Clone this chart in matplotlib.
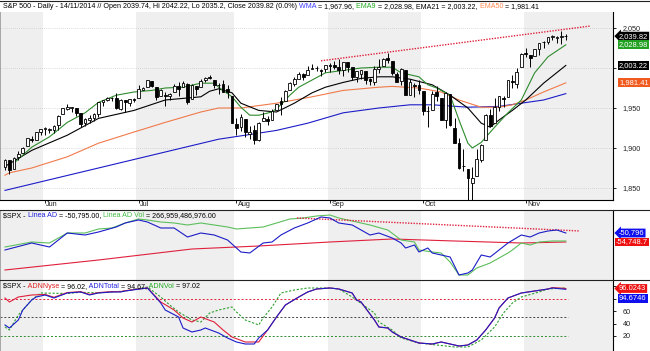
import matplotlib
matplotlib.use('Agg')
import matplotlib.pyplot as plt
from matplotlib.lines import Line2D

plt.rcParams['font.family'] = ['Liberation Sans', 'DejaVu Sans']
plt.rcParams['font.size'] = 5.2

W, H = 650, 351

# daily sessions 19/05/2014 .. 14/11/2014 (bar index 0..126)
months = ['Jun', 'Jul', 'Aug', 'Sep', 'Oct', 'Nov']
month_start = [9, 30, 52, 73, 94, 117]

opens = [1876.7, 1884.9, 1873.3, 1888.2, 1893.3, 1902.0, 1911.8, 1910.6, 1920.3,
         1923.9, 1923.1, 1923.1, 1928.5, 1942.4, 1949.0, 1950.3, 1949.4, 1943.4, 1930.8, 1934.8,
         1937.2, 1942.7, 1957.5, 1960.5, 1962.9, 1962.0, 1949.3, 1959.9, 1956.6, 1960.8,
         1962.3, 1973.1, 1975.9, 1984.2, 1976.4, 1965.1, 1966.7, 1965.0, 1969.9, 1977.4, 1976.4,
         1979.8, 1961.5, 1976.9, 1975.7, 1985.3, 1988.1, 1984.6, 1978.3, 1980.0, 1973.2, 1965.1,
         1929.8, 1926.0, 1936.3, 1917.3, 1923.0, 1910.4, 1933.4, 1935.7, 1935.6, 1947.4, 1958.9,
         1958.4, 1972.7, 1980.5, 1986.8, 1992.6, 1991.7, 1998.6, 2000.5, 1997.4, 1998.5,
         2004.1, 2003.6, 2001.7, 1998.0, 2007.2, 2000.7, 1988.4, 1992.9, 1996.7, 1986.0, 1981.9,
         1999.3, 2003.1, 2012.7, 2009.1, 1992.8, 1983.3, 1997.3, 1966.2, 1979.0, 1978.2,
         1971.4, 1945.8, 1948.1, 1970.0, 1962.4, 1935.6, 1967.7, 1925.6, 1905.7, 1877.1, 1874.2,
         1856.0, 1864.9, 1885.6, 1909.4, 1941.3, 1931.0, 1951.6, 1963.0, 1964.1, 1983.3, 1979.5, 2001.2,
         2018.2, 2015.8, 2015.3, 2023.3, 2032.4, 2032.0, 2038.2, 2037.8, 2039.2, 2039.74]
highs = [1886.0, 1884.9, 1888.8, 1896.3, 1901.3, 1912.3, 1914.5, 1920.0, 1924.0,
         1925.9, 1925.1, 1928.6, 1941.7, 1949.4, 1955.6, 1950.9, 1949.4, 1943.4, 1937.3, 1941.2,
         1943.7, 1957.7, 1959.9, 1963.9, 1963.7, 1968.2, 1960.8, 1959.9, 1961.0, 1962.3,
         1978.6, 1976.7, 1985.6, 1984.2, 1976.4, 1974.2, 1969.8, 1968.7, 1979.9, 1982.5, 1983.9,
         1981.8, 1979.9, 1976.9, 1986.2, 1989.2, 1991.4, 1984.6, 1981.5, 1984.9, 1978.9, 1965.1,
         1937.4, 1942.9, 1936.3, 1927.9, 1928.9, 1932.4, 1944.9, 1939.7, 1948.4, 1955.2, 1964.0,
         1972.0, 1982.6, 1988.6, 1994.8, 1993.5, 2002.0, 2005.0, 2002.1, 1998.6, 2003.4,
         2006.1, 2009.3, 2011.2, 2007.7, 2007.2, 2001.0, 1996.7, 1997.7, 1996.7, 1987.2, 2002.3,
         2010.7, 2012.3, 2019.3, 2009.1, 1995.4, 1999.8, 1997.3, 1986.4, 1981.3, 1985.2,
         1971.4, 1952.3, 1971.2, 1977.8, 1962.4, 1970.4, 1967.7, 1937.0, 1912.1, 1898.7, 1874.2,
         1876.0, 1898.2, 1905.0, 1942.5, 1949.3, 1962.0, 1965.3, 1964.6, 1985.1, 1991.4, 1999.4, 2018.2,
         2024.5, 2016.0, 2023.8, 2031.6, 2034.3, 2038.7, 2041.3, 2040.3, 2046.2, 2042.22]
lows = [1872.4, 1868.1, 1873.3, 1885.4, 1893.3, 1902.0, 1907.3, 1909.8, 1916.6,
        1915.8, 1918.8, 1918.6, 1922.9, 1942.4, 1947.2, 1944.6, 1940.1, 1925.8, 1927.7, 1930.9,
        1933.6, 1939.3, 1952.3, 1959.2, 1958.2, 1948.3, 1947.5, 1944.7, 1952.2, 1957.3,
        1962.3, 1972.6, 1975.9, 1975.7, 1959.5, 1965.1, 1952.9, 1959.6, 1969.9, 1965.3, 1975.7,
        1955.6, 1960.8, 1965.8, 1975.7, 1982.4, 1985.8, 1974.4, 1967.3, 1969.9, 1962.4, 1930.7,
        1916.4, 1921.2, 1913.8, 1911.5, 1904.8, 1909.0, 1933.4, 1928.3, 1935.6, 1947.4, 1941.5,
        1958.4, 1972.7, 1977.7, 1986.8, 1984.8, 1991.7, 1998.6, 1996.2, 1990.5, 1994.7,
        1994.9, 1998.2, 1992.6, 1990.1, 1995.6, 1984.6, 1983.0, 1985.9, 1980.3, 1978.5, 1979.1,
        1993.3, 2003.1, 2006.6, 1991.0, 1982.4, 1978.6, 1966.0, 1966.2, 1964.0, 1968.0,
        1941.7, 1926.0, 1948.1, 1958.4, 1935.1, 1925.3, 1927.6, 1906.1, 1874.1, 1871.8, 1820.7,
        1835.0, 1864.9, 1882.3, 1909.4, 1926.8, 1931.0, 1946.3, 1951.4, 1964.1, 1974.8, 1974.8, 2001.2,
        2013.7, 2001.0, 2015.3, 2015.9, 2025.1, 2030.2, 2035.3, 2031.3, 2030.4, 2035.2]
closes = [1885.1, 1872.8, 1888.0, 1892.5, 1900.5, 1911.9, 1909.8, 1920.0, 1923.6,
          1925.0, 1924.2, 1927.9, 1940.5, 1949.4, 1951.3, 1950.8, 1943.9, 1930.1, 1936.2, 1937.8,
          1942.0, 1957.0, 1959.5, 1962.9, 1962.6, 1950.0, 1959.5, 1957.2, 1961.0, 1960.2,
          1973.3, 1974.6, 1985.4, 1977.7, 1963.7, 1972.8, 1964.7, 1967.6, 1977.1, 1973.3, 1981.6,
          1958.1, 1978.2, 1973.6, 1983.5, 1987.0, 1988.0, 1978.3, 1978.9, 1970.0, 1970.1, 1930.7,
          1925.2, 1939.0, 1920.2, 1920.2, 1909.6, 1931.6, 1936.9, 1933.8, 1946.7, 1955.2, 1955.1,
          1971.7, 1981.6, 1986.5, 1992.4, 1988.4, 1997.9, 2000.0, 2000.1, 1996.7, 2003.4,
          2002.3, 2000.7, 1997.7, 2007.7, 2001.5, 1988.4, 1995.7, 1997.5, 1985.5, 1984.1, 1999.0,
          2001.6, 2011.4, 2010.4, 1994.3, 1982.8, 1998.3, 1966.0, 1982.9, 1977.8, 1972.3,
          1946.2, 1946.2, 1967.9, 1964.8, 1935.1, 1968.9, 1928.2, 1906.1, 1874.7, 1877.7, 1862.5,
          1862.8, 1886.8, 1904.0, 1941.3, 1927.1, 1950.8, 1964.6, 1961.6, 1985.1, 1982.3, 1994.7, 2018.1,
          2017.8, 2012.1, 2023.6, 2031.2, 2031.9, 2038.3, 2039.7, 2038.3, 2039.3, 2039.82]

# moving averages (bar index, value)
wma_idx = [0, 24, 48, 54, 61, 68, 76, 84, 91, 96, 104, 111, 116, 121, 126]
wma_val = [1847, 1879, 1911, 1916, 1922, 1931, 1944, 1950, 1954, 1954, 1951, 1952, 1956, 1960, 1967.96]
ema50_idx = [0, 1, 6, 14, 21, 29, 36, 44, 48, 53, 61, 69, 76, 84, 87, 93, 98, 102, 107, 111, 114, 117, 121, 126]
ema50_val = [1866, 1869, 1875, 1889, 1906, 1920, 1932, 1945, 1950, 1950, 1956, 1964, 1972, 1976, 1977,
             1975, 1970, 1960, 1951, 1951, 1954, 1960, 1970, 1981.41]
ema21_idx = [0, 6, 14, 21, 29, 36, 44, 46, 48, 51, 53, 57, 61, 65, 69, 72, 76, 80, 84, 87, 91, 96,
             100, 104, 107, 109, 111, 114, 117, 121, 126]
ema21_val = [1877, 1897, 1916, 1937, 1947, 1960, 1964, 1971, 1974, 1969, 1956, 1947, 1945, 1956, 1969,
             1976, 1982, 1987, 1989, 1989, 1986, 1979, 1966, 1950, 1931, 1926, 1935, 1947, 1960, 1981, 2003.22]
ema9_idx = [2, 6, 10, 14, 18, 21, 25, 29, 33, 36, 40, 44, 47, 48, 51, 53, 55, 57, 60, 62, 64, 66, 69,
            72, 76, 80, 84, 87, 89, 93, 95, 97, 100, 102, 104, 105, 107, 110, 113, 116, 119, 122, 126]
ema9_val = [1881, 1901, 1914, 1932, 1944, 1957, 1966, 1970, 1972, 1975, 1976, 1981, 1981, 1976, 1964,
            1951, 1941, 1941, 1945, 1954, 1966, 1976, 1985, 1994, 1997, 2000, 2001, 2001, 1994, 1989,
            1979, 1975, 1966, 1935, 1906, 1900, 1907, 1926, 1944, 1960, 1994, 2014, 2028.98]
trend_idx = [71, 131.5]
trend_val = [2009, 2052.5]

# Linea AD / Linea AD Vol (AD units)
ad_idx = [0, 6, 10, 14, 18, 21, 25, 27, 30, 32, 35, 38, 41, 44, 47, 50, 53, 55, 58, 60, 62, 65, 68,
          71, 73, 75, 78, 80, 82, 84, 87, 89, 90, 92, 93, 95, 96, 98, 100, 102, 104, 105, 107, 109,
          111, 113, 116, 118, 120, 122, 124, 126]
ad_val = [-58259, -55186, -56942, -50796, -51674, -50357, -48162, -46406, -45089, -45967, -48601,
          -48601, -52552, -50796, -51674, -53869, -59137, -59576, -55186, -54747, -51674, -48601,
          -46406, -43772, -44211, -46406, -47284, -49479, -51674, -50796, -52991, -55186, -57381,
          -56064, -59137, -57381, -59576, -60454, -61332, -69234, -68356, -67039, -60454, -61332,
          -58259, -55186, -51674, -52552, -50796, -49918, -49479, -50796]
advol_idx = [0, 6, 10, 14, 18, 21, 24, 27, 30, 32, 35, 38, 41, 44, 47, 50, 52, 55, 58, 61, 64, 67,
             70, 73, 75, 79, 82, 86, 89, 92, 93, 96, 98, 100, 102, 104, 106, 109, 111, 113, 114,
             116, 118, 120, 123, 126]
advol_val = [-56942, -54747, -55186, -50796, -50796, -49040, -48601, -46406, -44650, -45089, -45967,
             -46406, -47284, -46406, -47284, -48162, -49040, -48601, -48162, -46406, -44650, -44211,
             -43333, -42894, -44211, -45967, -47284, -49479, -53869, -54747, -58259, -59137, -59576,
             -63527, -69234, -69234, -66161, -63966, -61771, -59576, -58259, -55186, -56064, -54747,
             -54308, -54308]
admav_idx = [0, 21, 42, 57, 73, 87, 101, 116, 126]
admav_val = [-67039, -62649, -57820, -56503, -54747, -53430, -54308, -55186, -54748.7]
adtrend_idx = [65.6, 129.2]
adtrend_val = [-44211, -49918]

# ADN oscillators (0-100)
nyse_idx = [0, 1, 3, 6, 9, 11, 14, 17, 19, 21, 24, 26, 27, 32, 35, 38, 40, 42, 44, 47, 49, 51, 54,
            57, 59, 61, 63, 66, 68, 70, 73, 75, 78, 79, 80, 81, 83, 84, 86, 87, 89, 91, 93, 96, 98,
            100, 102, 104, 106, 108, 110, 111, 113, 116, 119, 122, 123, 126]
nyse_val = [80.8, 74.4, 82.4, 85.6, 86.5, 82.0, 89.5, 91.0, 86.5, 89.5, 91.0, 91.0, 92.5, 97.0, 74.4,
            61.6, 48.8, 42.4, 50.4, 42.4, 29.6, 18.4, 10.4, 10.4, 29.6, 50.4, 69.6, 82.4, 90.4, 95.2,
            96.8, 95.2, 88.8, 77.6, 74.4, 64.8, 45.6, 34.4, 32.8, 26.4, 18.4, 13.6, 8.8, 7.2, 10.4,
            7.2, 4.0, 5.6, 13.6, 29.6, 48.8, 64.8, 80.8, 88.8, 92.0, 95.2, 97.5, 96.02]
total_idx = [0, 1, 3, 4, 6, 7, 9, 11, 14, 17, 19, 21, 24, 26, 27, 32, 35, 36, 39, 40, 42, 44, 45,
             48, 50, 52, 54, 56, 57, 59, 61, 63, 66, 68, 70, 73, 75, 78, 79, 80, 81, 83, 84, 86, 87,
             89, 91, 93, 96, 98, 100, 102, 104, 106, 108, 110, 111, 113, 116, 119, 122, 123, 126]
total_val = [37.6, 32.8, 45.6, 61.6, 77.6, 82.4, 85.6, 80.8, 88.8, 90.4, 85.6, 88.8, 90.4, 90.4, 92.0,
             96.8, 72.8, 61.6, 50.4, 32.8, 26.4, 29.6, 32.8, 24.8, 16.8, 10.4, 7.2, 7.2, 16.8, 29.6,
             50.4, 69.6, 82.4, 90.4, 95.2, 96.8, 95.2, 88.8, 77.6, 74.4, 64.8, 45.6, 34.4, 32.8, 26.4,
             18.4, 13.6, 8.8, 7.2, 10.4, 7.2, 4.0, 5.6, 13.6, 29.6, 48.8, 64.8, 80.8, 88.8, 92.0,
             95.2, 96.8, 94.67]
vol_idx = [0, 1, 3, 6, 8, 14, 17, 21, 27, 32, 35, 37, 39, 42, 44, 46, 48, 51, 52, 54, 57, 58, 60,
           62, 65, 68, 73, 75, 78, 83, 84, 87, 89, 93, 97, 101, 104, 107, 110, 112, 114, 116, 120,
           122, 126]
vol_val = [34.4, 29.6, 53.6, 77.6, 88.8, 88.0, 90.0, 89.0, 92.0, 98.4, 82.4, 69.6, 58.4, 45.6, 42.4,
           56.8, 61.6, 66.4, 58.4, 45.6, 37.6, 48.8, 66.4, 88.8, 93.6, 96.8, 96.8, 95.2, 82.4, 56.8,
           42.4, 29.6, 16.8, 8.8, 5.6, 2.4, 2.4, 13.6, 34.4, 56.8, 72.8, 82.4, 90.4, 95.2, 97.02]
adn_levels = [80, 50, 20]

XMIN, XMAX = -1.12, 136.6
BAND = '#efefef'
BLUE = '#1c1cc8'
GREEN = '#2e8b2e'
ORANGE = '#f07a4a'
RED = '#e0203c'

fig = plt.figure(figsize=(W / 100, H / 100), dpi=100)
fig.patch.set_facecolor('white')


def px_axes(x0, y0, x1, y1):
    return fig.add_axes([x0 / W, 1 - y1 / H, (x1 - x0) / W, (y1 - y0) / H])


ax1 = px_axes(0, 12, 613, 200)
ax2 = px_axes(0, 210, 613, 280)
ax3 = px_axes(0, 280, 613, 351)

edges = [XMIN] + [m - 0.5 for m in month_start] + [XMAX]
for ax in (ax1, ax2, ax3):
    ax.set_xlim(XMIN, XMAX)
    for k in range(0, len(edges) - 1, 2):
        ax.axvspan(edges[k], edges[k + 1], color=BAND, lw=0, zorder=0)
    for side in ('top', 'bottom'):
        ax.spines[side].set_visible(False)
    ax.spines['left'].set_color('#999999')
    ax.spines['left'].set_linewidth(0.6)
    ax.spines['right'].set_linewidth(0.8)
    ax.yaxis.tick_right()
    ax.tick_params(axis='y', right=True, length=2.5, width=0.6, pad=4.5,
                   labelsize=5.2, labelcolor='#222222')
    ax.tick_params(axis='x', bottom=False, labelbottom=False)

# --- price panel ---
ax1.set_ylim(1835, 2070)
ax1.spines['bottom'].set_visible(True)
ax1.spines['bottom'].set_linewidth(0.8)
ax1.set_yticks([1850, 1900, 1950, 2000, 2050])
ax1.set_yticklabels(['1,850', '1,900', '1,950', '', '2,050'])
for v in [1850, 1900, 1950, 2000, 2050]:
    ax1.axhline(v, color='#bbbbbb', lw=0.5, ls=(0, (1, 2)), zorder=1)

ax1.plot(wma_idx, wma_val, color=BLUE, lw=0.8, zorder=2)
ax1.plot(ema50_idx, ema50_val, color=ORANGE, lw=0.8, zorder=2)
ax1.plot(ema21_idx, ema21_val, color='black', lw=0.8, zorder=2)
ax1.plot(ema9_idx, ema9_val, color=GREEN, lw=0.8, zorder=2)
ax1.plot(trend_idx, trend_val, color=RED, lw=1.0, ls=(0, (1, 1)), zorder=2)

idx = list(range(len(closes)))
ax1.vlines(idx, lows, highs, color='black', lw=0.7, zorder=3)
for i, (o, c) in enumerate(zip(opens, closes)):
    up = c >= o
    ax1.bar(i, max(abs(c - o), 0.4), bottom=min(o, c), width=0.62,
            color='white' if up else 'black', edgecolor='black', lw=0.6, zorder=4)

ax1.tick_params(axis='x', bottom=True, direction='out', length=2.5, width=0.6)
ax1.set_xticks(month_start)
for m, lab in zip(month_start, months):
    ax1.text(m + 0.3, -5 / 188, lab, transform=ax1.get_xaxis_transform(), ha='left',
             va='center', fontsize=5.2, color='#222222', clip_on=False)

# --- AD panel ---
ax2.set_ylim(-71430, -40700)
ax2.set_yticks([])
ax2.plot(admav_idx, admav_val, color=RED, lw=0.8, zorder=2)
ax2.plot(advol_idx, advol_val, color='#5cbf5c', lw=0.8, zorder=2)
ax2.plot(ad_idx, ad_val, color=BLUE, lw=0.8, zorder=3)
ax2.plot(adtrend_idx, adtrend_val, color=RED, lw=1.0, ls=(0, (1, 1)), zorder=2)

# --- ADN panel ---
ax3.set_ylim(-4, 109.6)
ax3.set_yticks([20, 40, 60, 80, 100])
ax3.set_yticklabels(['20', '40', '60', '', ''])
for lv, col in zip(adn_levels, [RED, '#444444', GREEN]):
    ax3.hlines(lv, XMIN, 126.4, colors=col, lw=0.7, linestyles=(0, (2, 2)), zorder=1)
ax3.plot(vol_idx, vol_val, color='#2ca02c', lw=0.8, ls=(0, (2, 1.5)), zorder=2)
ax3.plot(nyse_idx, nyse_val, color=RED, lw=0.8, zorder=3)
ax3.plot(total_idx, total_val, color=BLUE, lw=0.8, zorder=3)


def chain_text(ax, x, y, parts):
    t = ax.text(x, y, parts[0][0], color=parts[0][1], transform=ax.transAxes, ha='left',
                va='bottom', clip_on=False, zorder=6, fontsize=5.1)
    for s, c in parts[1:]:
        t = ax.annotate(s, xy=(1, 0), xycoords=t, ha='left', va='bottom', color=c,
                        zorder=6, fontsize=5.1)


chain_text(ax1, 3 / 613, 1 + 2 / 188, [
    ('S&P 500 - Daily - 14/11/2014 // Open 2039.74, Hi 2042.22, Lo 2035.2, Close 2039.82 (0.0%)', 'black'),
    (' WMA', '#3a3aff'), (' = 1,967.96,', 'black'), (' EMA9', '#22aa22'),
    (' = 2,028.98, EMA21 = 2,003.22,', 'black'), (' EMA50', '#ff8a50'), (' = 1,981.41', 'black')])
chain_text(ax2, 3 / 613, 0.87, [
    (r'\$SPX -', 'black'), (' Linea AD', '#2222dd'), (' = -50,795.00,', 'black'),
    (' Linea AD Vol', '#44bb44'), (' = 266,959,486,976.00', 'black')])
chain_text(ax3, 3 / 613, 0.86, [
    (r'\$SPX -', 'black'), (' ADNNyse', '#e02020'), (' = 96.02,', 'black'),
    (' ADNTotal', '#2222dd'), (' = 94.67,', 'black'), (' ADNVol', '#22aa22'), (' = 97.02', 'black')])


def value_box(ax, y, label, color, arrow=False, x0=6):
    style = 'larrow,pad=0.12' if arrow else 'square,pad=0.12'
    ax.text(1 + x0 / 613, y, label, transform=ax.get_yaxis_transform(), ha='left', va='center',
            color='white', fontsize=5.4, clip_on=False, zorder=7,
            bbox=dict(boxstyle=style, fc=color, ec='none'))


value_box(ax1, closes[-1], '2,039.82', 'black', arrow=True)
value_box(ax1, ema9_val[-1], '2,028.98', '#22a022')
value_box(ax1, ema21_val[-1], '2,003.22', 'black')
value_box(ax1, ema50_val[-1], '1,981.41', '#f05a1e')
value_box(ax2, ad_val[-1], '-50,796', '#1010ee', arrow=True)
value_box(ax2, admav_val[-1], '-54,748.7', '#ee1111', x0=3)
value_box(ax3, nyse_val[-1], '96.0243', '#ee1111', arrow=True)
value_box(ax3, 79.5, '94.6746', '#1010ee')

# panel separators
for yy in (0.5, 210, 280):
    fig.add_artist(Line2D([0, 1], [1 - yy / H, 1 - yy / H], color='#222222', lw=0.8))

fig.savefig('out.png', dpi=100)
